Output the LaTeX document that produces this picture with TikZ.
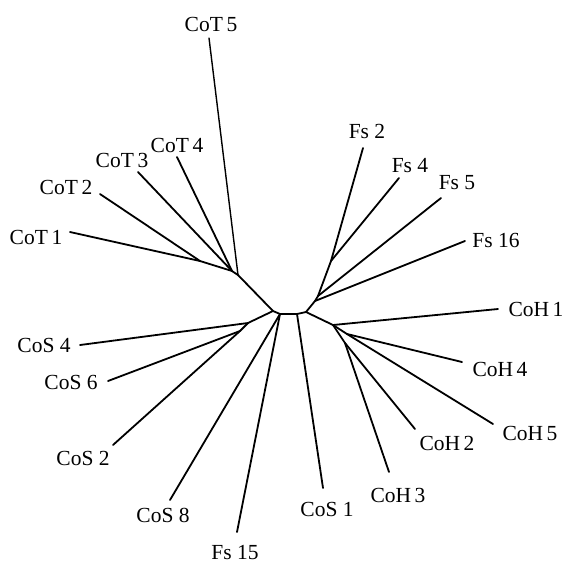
\documentclass[tikz,border=0pt]{standalone}
\usepackage{fontspec}
\setmainfont{Liberation Serif}
\begin{document}
\begin{tikzpicture}[x=1pt,y=-1pt,
  branch/.style={line width=1.8pt, line cap=round, line join=round},
  taxon/.style={font=\fontsize{21.5}{24}\selectfont, inner sep=0pt}]
\useasboundingbox (0,0) rectangle (564,563);

% internal vertices of the unrooted tree
\coordinate (n1) at (273,311);
\coordinate (n2) at (280,314);
\coordinate (n3) at (297,314);
\coordinate (n4) at (306,312);
\coordinate (t1) at (200,261);
\coordinate (t2) at (232,271);
\coordinate (t3) at (238,275);
\coordinate (f1) at (331,261);
\coordinate (f2) at (318,296);
\coordinate (f3) at (315,301);
\coordinate (h0) at (333,325);
\coordinate (ha) at (347,334);
\coordinate (hb) at (345,343);
\coordinate (c0) at (248,323);
\coordinate (c1) at (240,331);

% tips of the terminal branches
\coordinate (cot1e) at (70,232);
\coordinate (cot2e) at (100,194);
\coordinate (cot3e) at (138,172);
\coordinate (cot4e) at (177,157);
\coordinate (cot5e) at (209,38);
\coordinate (fs2e) at (363,148);
\coordinate (fs4e) at (399,178);
\coordinate (fs5e) at (441,198);
\coordinate (fs16e) at (465,241);
\coordinate (coh1e) at (498,309);
\coordinate (coh4e) at (462,362);
\coordinate (coh5e) at (493,424);
\coordinate (coh2e) at (415,429);
\coordinate (coh3e) at (389,472);
\coordinate (cos1e) at (323,488);
\coordinate (cos4e) at (80,345);
\coordinate (cos6e) at (108,381);
\coordinate (cos2e) at (113,445);
\coordinate (cos8e) at (170,500);
\coordinate (fs15e) at (237,532);

% backbone
\draw[branch] (t3) -- (n1) -- (n2) -- (n3) -- (n4);
\draw[branch] (n1) -- (c0);
\draw[branch] (n4) -- (f3);
\draw[branch] (n4) -- (h0);

% CoT group
\draw[branch] (cot1e) -- (t1) -- (t2) -- (t3);
\draw[branch] (cot2e) -- (t1);
\draw[branch] (cot3e) -- (t2);
\draw[branch] (cot4e) -- (t2);
\draw[branch, line width=1.4pt] (cot5e) -- (t3);

% Fs group
\draw[branch] (fs2e) -- (f1) -- (f2) -- (f3);
\draw[branch] (fs4e) -- (f1);
\draw[branch] (fs5e) -- (f2);
\draw[branch] (fs16e) -- (f3);

% CoH group
\draw[branch] (coh1e) -- (h0);
\draw[branch] (h0) -- (ha);
\draw[branch] (coh4e) -- (ha);
\draw[branch] (coh5e) -- (ha);
\draw[branch] (h0) -- (hb);
\draw[branch] (coh2e) -- (hb);
\draw[branch] (coh3e) -- (hb);

% CoS group
\draw[branch] (cos1e) -- (n3);
\draw[branch] (cos4e) -- (c0);
\draw[branch] (c0) -- (c1);
\draw[branch] (cos6e) -- (c1);
\draw[branch] (cos2e) -- (c1);
\draw[branch] (cos8e) -- (n2);
\draw[branch] (fs15e) -- (n2);

% taxon labels
\node[taxon] (cot5) at (211,24) {CoT\,5};
\node[taxon] (cot4) at (177,145) {CoT\,4};
\node[taxon] (cot3) at (122,160) {CoT\,3};
\node[taxon] (cot2) at (66,187) {CoT\,2};
\node[taxon] (cot1) at (36,237) {CoT\,1};
\node[taxon] (fs2) at (367,131) {Fs 2};
\node[taxon] (fs4) at (410,166) {Fs 4};
\node[taxon] (fs5) at (457,183) {Fs 5};
\node[taxon] (fs16) at (496,240) {Fs 16};
\node[taxon] (coh1) at (536,309) {CoH\,1};
\node[taxon] (coh4) at (500,369) {CoH\,4};
\node[taxon] (coh5) at (530,433) {CoH\,5};
\node[taxon] (coh2) at (447,443) {CoH\,2};
\node[taxon] (coh3) at (398,495) {CoH\,3};
\node[taxon] (cos1) at (327,509) {CoS 1};
\node[taxon] (cos4) at (44,345) {CoS 4};
\node[taxon] (cos6) at (71,382) {CoS 6};
\node[taxon] (cos2) at (83,458) {CoS 2};
\node[taxon] (cos8) at (163,515) {CoS 8};
\node[taxon] (fs15) at (235,552) {Fs 15};
\end{tikzpicture}
\end{document}
